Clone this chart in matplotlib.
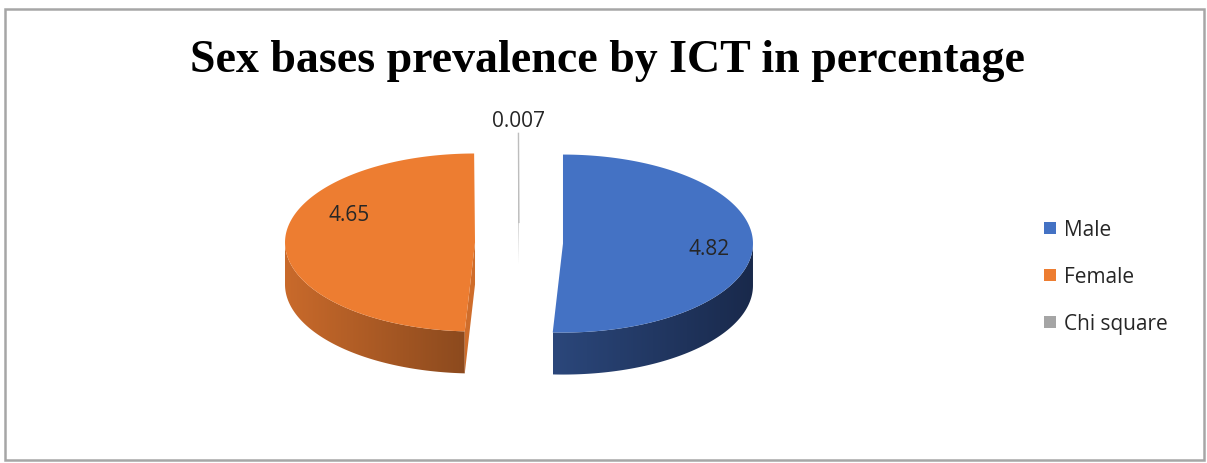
import numpy as np
import matplotlib.pyplot as plt
from matplotlib.patches import Polygon, Rectangle
from matplotlib.colors import to_rgb

# data
labels = ['Male', 'Female', 'Chi square']
values = [4.82, 4.65, 0.007]
value_text = ['4.82', '4.65', '0.007']
title = 'Sex bases prevalence by ICT in percentage'

# styles
top_colors = ['#4472C4', '#ED7D31', '#A5A5A5']
side_left = ['#2b477b', '#c96a2b', '#8a8a8a']
side_right = ['#19294b', '#8c4a1e', '#6a6a6a']
cut_colors = ['#22396a', '#cf6d2b', '#9a9a9a']

# layout (pixel space, y down)
W, H = 1207, 464
CX, CY = 519, 244
RX, RY, DEPTH, EXPLODE = 190, 89, 42, 44
# label offsets relative to each slice centre, in ellipse radii
label_off = [(0.77, -0.06), (-0.66, 0.31), (0.0, 1.14)]

fig = plt.figure(figsize=(W / 100, H / 100), dpi=100)
ax = fig.add_axes([0, 0, 1, 1])
ax.set_axis_off()

ax.add_patch(Rectangle((5, 10), 1199, 451, fill=False, ec='#a6a6a6', lw=1.8))
ax.text(607, 72, title, ha='center', va='baseline', fontsize=33,
        fontweight='bold', family='Liberation Serif')

total = sum(values)
cum = np.concatenate([[0], np.cumsum(values)])
a_hi = 90 - cum[:-1] / total * 360   # clockwise from 12 o'clock
a_lo = 90 - cum[1:] / total * 360

def pt(cx, cy, a, dy=0.0):
    r = np.radians(a)
    return cx + RX * np.cos(r), cy - RY * np.sin(r) + dy

# back to front: chi square first
for i in [2, 1, 0]:
    a1, a2 = a_lo[i], a_hi[i]
    mid = np.radians((a1 + a2) / 2)
    cx = CX + EXPLODE * np.cos(mid)
    cy = CY - EXPLODE * RY / RX * np.sin(mid)

    # radial cut faces facing the viewer
    for a, vis in [(a1, np.cos(np.radians(a1)) > 0), (a2, np.cos(np.radians(a2)) < 0)]:
        if vis:
            rx_, ry_ = pt(cx, cy, a)
            quad = [(cx, cy), (rx_, ry_), (rx_, ry_ + DEPTH), (cx, cy + DEPTH)]
            ax.add_patch(Polygon(quad, closed=True, fc=cut_colors[i], ec='none'))

    # outer wall, front half only, shaded left to right
    for k in [-1, 0, 1]:
        lo, hi = max(a1, -180 + 360 * k), min(a2, 360 * k)
        if hi <= lo:
            continue
        angs = np.linspace(lo, hi, 120)
        top = [pt(cx, cy, a) for a in angs]
        bot = [(x, y + DEPTH) for x, y in top[::-1]]
        wall = Polygon(top + bot, closed=True, fc='none', ec='none')
        ax.add_patch(wall)
        xs = [p[0] for p in top]; ys = [p[1] for p in top]
        x0, x1 = min(xs), max(xs)
        c0, c1 = np.array(to_rgb(side_left[i])), np.array(to_rgb(side_right[i]))
        t = np.linspace(0, 1, 256)[:, None]
        grad = (c0 + (c1 - c0) * t)[None, :, :]
        im = ax.imshow(grad, extent=(x0, x1, max(ys) + DEPTH + 1, min(ys) - 1),
                       aspect='auto', interpolation='bilinear')
        im.set_clip_path(wall)

    # top face
    angs = np.linspace(a1, a2, 200)
    poly = [(cx, cy)] + [pt(cx, cy, a) for a in angs]
    ax.add_patch(Polygon(poly, closed=True, fc=top_colors[i], ec='none'))
    if i == 2:
        tx, ty = pt(cx, cy, (a1 + a2) / 2)
        ax.plot([cx, tx], [cy, ty], color='#bdbdbd', lw=1.0)

    dx, dy = label_off[i]
    ax.text(cx + dx * RX, cy - dy * RY, value_text[i], ha='center', va='center',
            fontsize=15, family='Open Sans', color='#262626')

# legend
for k, (lab, col) in enumerate(zip(labels, top_colors)):
    yb = 236 + 47 * k
    ax.add_patch(Rectangle((1044, yb - 13.5), 12, 12, fc=col, ec='none'))
    ax.text(1064, yb, lab, ha='left', va='baseline', fontsize=15,
            family='Open Sans', color='#262626')

ax.set_xlim(0, W); ax.set_ylim(H, 0)
fig.savefig('out.png', dpi=100)
